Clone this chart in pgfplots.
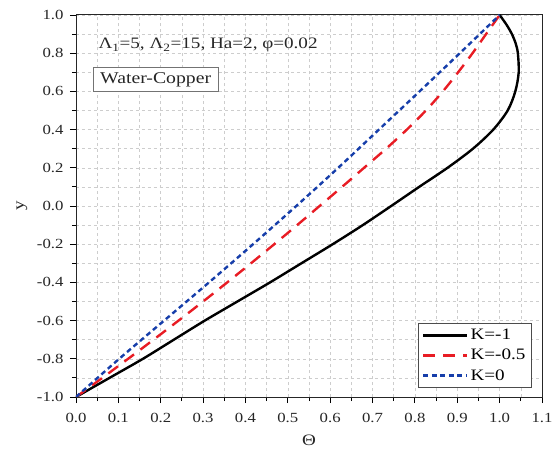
\documentclass[border=0pt]{standalone}
\usepackage{pgfplots}
\pgfplotsset{compat=1.18}
\usepackage{fontspec}
\setmainfont{Liberation Serif}[FakeStretch=1.2]
\definecolor{kred}{RGB}{232,28,36}
\definecolor{kblue}{RGB}{22,62,170}
\definecolor{gridc}{RGB}{205,205,205}
\begin{document}
\begin{tikzpicture}
\begin{axis}[
  scale only axis,
  width=466bp, height=382bp,
  xmin=0, xmax=1.1, ymin=-1, ymax=1,
  xtick={0,0.1,...,1.1}, ytick={-1,-0.8,...,1.0},
  minor x tick num=1, minor y tick num=1,
  xtick pos=bottom, ytick pos=left,
  tick align=outside,
  major tick length=6bp, minor tick length=4bp,
  every tick/.style={black, line width=0.9pt},
  axis line style={black!85, line width=1pt},
  grid=both,
  major grid style={gridc, dashed, line width=0.5pt},
  minor grid style={gridc, dashed, line width=0.5pt},
  /pgf/number format/assume math mode=true,
  /pgf/number format/.cd, fixed, fixed zerofill, precision=1, /pgfplots/.cd,
  tick label style={font=\fontsize{14}{16}\selectfont, text=black!85},
  xticklabel style={yshift=-7bp},
  yticklabel style={xshift=-3bp},
  xlabel={Θ}, ylabel={y},
  label style={font=\fontsize{16}{18}\selectfont, text=black!85},
  xlabel style={at={(axis description cs:0.5,-0.1126)}, anchor=center},
  ylabel style={at={(axis description cs:-0.1159,0.5)}, anchor=center},
  legend cell align=left,
  legend style={at={(rel axis cs:0.978,0.024)}, anchor=south east, draw=black!70, line width=0.6pt,
    font=\fontsize{16}{18}\selectfont, row sep=4bp, inner xsep=4bp, inner ysep=4bp},
  legend image code/.code={\draw[#1] (0bp,0bp) -- (44bp,0bp);},
]
\addplot[black, line width=2.4pt, smooth] table[x=x, y=y] {
x y
0 -1
0.079 -0.9
0.158 -0.8
0.231 -0.7
0.304 -0.6
0.381 -0.5
0.458 -0.4
0.532 -0.3
0.606 -0.2
0.677 -0.1
0.744 0
0.810 0.1
0.877 0.2
0.937 0.3
0.985 0.4
1.019 0.5
1.037 0.6
1.045 0.7
1.043 0.8
1.038 0.85
1.029 0.9
1.016 0.95
1.000 1.0
};
\addlegendentry{K=-1}
\addplot[kred, line width=2.4pt, dash pattern=on 12bp off 8bp, smooth] table[x=x, y=y] {
x y
0 -1
0.062 -0.9
0.123 -0.8
0.183 -0.7
0.242 -0.6
0.300 -0.5
0.357 -0.4
0.413 -0.3
0.468 -0.2
0.522 -0.1
0.575 0
0.628 0.1
0.680 0.2
0.732 0.3
0.781 0.4
0.826 0.5
0.866 0.6
0.902 0.7
0.936 0.8
0.968 0.9
1.000 1.0
};
\addlegendentry{K=-0.5}
\addplot[kblue, line width=2.4pt, dash pattern=on 5bp off 3.5bp, smooth] table[x=x, y=y] {
x y
0 -1
0.102 -0.8
0.208 -0.6
0.314 -0.4
0.418 -0.2
0.520 0
0.619 0.2
0.715 0.4
0.811 0.6
0.906 0.8
1.000 1.0
};
\addlegendentry{K=0}
\node[anchor=west, font=\fontsize{16}{18}\selectfont, text=black!85] at (axis cs:0.045,0.843)
  {Λ\textsubscript{1}=5, Λ\textsubscript{2}=15, Ha=2, φ=0.02};
\node[anchor=west, draw=black!55, line width=0.6pt, fill=white, inner xsep=7bp, inner ysep=5bp,
  font=\fontsize{16.5}{18}\selectfont, text=black!85] at (axis cs:0.04,0.662) {Water-Copper};
\end{axis}
\useasboundingbox ([shift={(-76bp,-60bp)}]current axis.south west) rectangle ++(557bp,457bp);
\end{tikzpicture}
\end{document}
